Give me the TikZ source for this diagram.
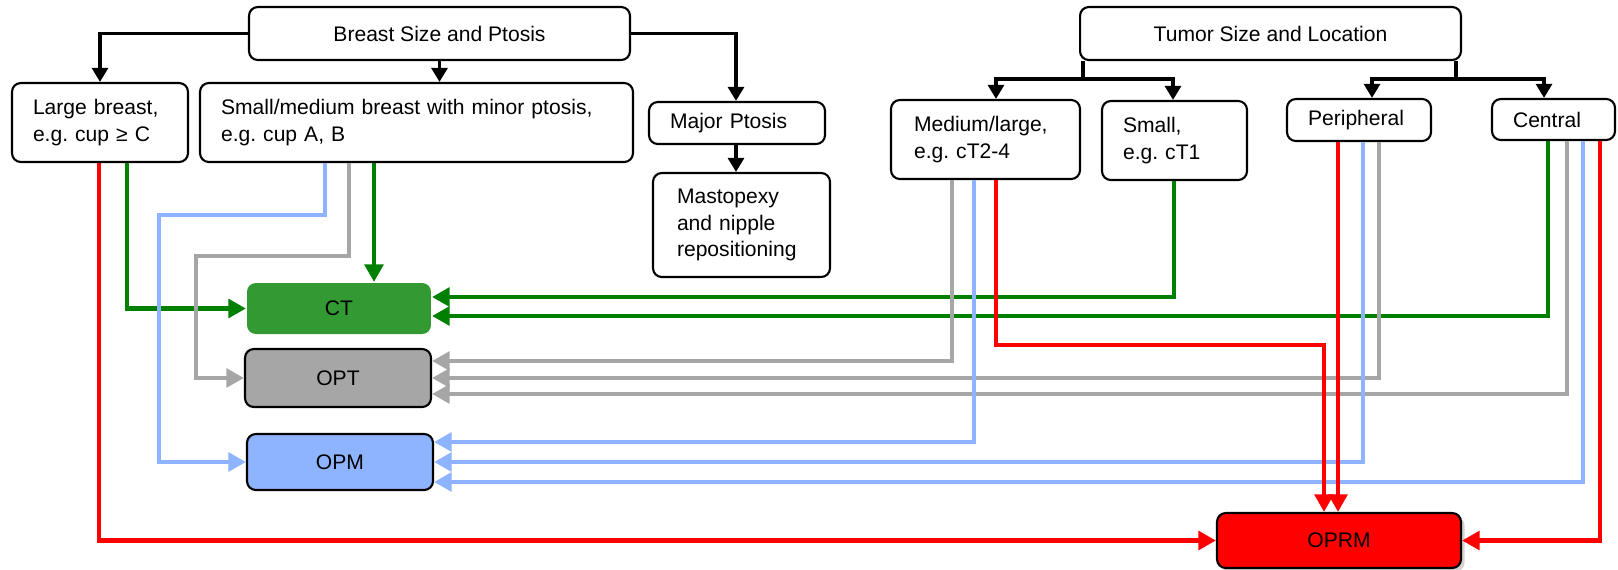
\documentclass[tikz,border=0pt]{standalone}
\usepackage{fontspec}
\setmainfont{Liberation Sans}
\usetikzlibrary{arrows.meta,calc,shadows}
\definecolor{dgreen}{HTML}{008000}
\definecolor{ctfill}{HTML}{339933}
\definecolor{gline}{HTML}{A6A6A6}
\definecolor{bline}{HTML}{8FB4FF}
\frenchspacing
\begin{document}
\begin{tikzpicture}[x=0.02cm,y=-0.02cm,
  box/.style={draw, line width=1.2pt, rounded corners=5pt, fill=white, inner ysep=0pt, font=\fontsize{12}{15}\selectfont},
  lbox/.style={box, align=left, inner xsep=0.42cm},
  blk/.style={line width=2.2pt, -{Triangle[length=8pt,width=9pt]}},
  col/.style={line width=2.6pt, -{Triangle[length=10pt,width=10.5pt]}},
]
\useasboundingbox (0,0) rectangle (1618,569);

% top-level boxes
\node[box, minimum width=7.62cm, minimum height=1.06cm] (breast) at (439.5,33.5) {Breast Size and Ptosis};
\node[box, minimum width=7.62cm, minimum height=1.06cm] (tumor) at (1270.5,33.5) {Tumor Size and Location};

% breast branches
\node[lbox, text width=2.68cm, minimum width=3.52cm, minimum height=1.58cm] (large) at (100,122.5) {Large breast,\\e.g. cup ≥ C};
\node[lbox, text width=7.82cm, minimum width=8.66cm, minimum height=1.58cm] (smallmed) at (416.5,122.5) {Small/medium breast with minor ptosis,\\e.g. cup A, B};
\node[lbox, text width=2.68cm, minimum width=3.52cm, minimum height=0.84cm] (major) at (737,123) {Major Ptosis};
\node[lbox, inner xsep=0.48cm, text width=2.58cm, minimum width=3.54cm, minimum height=2.08cm] (masto) at (741.5,225) {Mastopexy\\and nipple\\repositioning};

% tumor branches
\node[lbox, inner xsep=0.46cm, text width=2.86cm, minimum width=3.78cm, minimum height=1.58cm] (medl) at (985.5,139.5) {Medium/large,\\e.g. cT2-4};
\node[lbox, text width=2.06cm, minimum width=2.9cm, minimum height=1.58cm] (smalltum) at (1174.5,140.5) {Small,\\e.g. cT1};
\node[lbox, text width=2.04cm, minimum width=2.88cm, minimum height=0.84cm] (periph) at (1359,120) {Peripheral};
\node[lbox, text width=1.62cm, minimum width=2.46cm, minimum height=0.82cm] (central) at (1553.5,119.5) {Central};

% outcome boxes
\node[box, draw=none, fill=ctfill, minimum width=3.68cm, minimum height=1.02cm] (ct) at (339,308.5) {CT};
\node[box, fill=gline, minimum width=3.72cm, minimum height=1.16cm] (opt) at (338,378) {OPT};
\node[box, fill=bline, minimum width=3.72cm, minimum height=1.12cm] (opm) at (340,462) {OPM};
\node[box, fill=red, minimum width=4.88cm, minimum height=1.1cm,
      drop shadow={opacity=0.35, shadow xshift=2pt, shadow yshift=-2pt}] (oprm) at (1339,540.5) {OPRM};

% black connectors
\draw[blk] (breast.west) -| (large.north);
\draw[blk] (breast.south) -- (breast.south |- smallmed.north);
\draw[blk] (breast.east) -| (major.north -| 736,0);
\draw[blk] (major.south -| 736,0) -- (masto.north -| 736,0);
\coordinate (t1) at (1083,79);
\coordinate (t2) at (1456,79);
\draw[line width=2.8pt] (tumor.south -| t1) -- (t1);
\draw[line width=2.8pt] (tumor.south -| t2) -- (t2);
\draw[blk] (t1) -| (medl.north -| 996,0);
\draw[blk] (t1) -| (smalltum.north -| 1173,0);
\draw[blk] (t2) -| (periph.north -| 1372,0);
\draw[blk] (t2) -| (central.north -| 1544,0);

% green
\draw[col, dgreen] (large.south -| 127,0) |- (ct.west);
\draw[col, dgreen] (smallmed.south -| 374,0) -- (ct.north -| 374,0);
\draw[col, dgreen] (smalltum.south -| 1174,0) |- (ct.east |- 0,297);
\draw[col, dgreen] (central.south -| 1548,0) |- (ct.east |- 0,316);

% gray
\draw[col, gline] (smallmed.south -| 349,0) |- (196,256) |- (opt.west);
\draw[col, gline] (medl.south -| 952,0) |- (opt.east |- 0,361);
\draw[col, gline] (periph.south -| 1379,0) |- (opt.east |- 0,378);
\draw[col, gline] (central.south -| 1567,0) |- (opt.east |- 0,394);

% blue
\draw[col, bline] (smallmed.south -| 325,0) |- (159,215) |- (opm.west);
\draw[col, bline] (medl.south -| 974,0) |- (opm.east |- 0,442);
\draw[col, bline] (periph.south -| 1363,0) |- (opm.east |- 0,462);
\draw[col, bline] (central.south -| 1583,0) |- (opm.east |- 0,482);

% red
\draw[col, red] (large.south -| 99,0) |- (oprm.west);
\draw[col, red] (medl.south -| 996,0) |- (1324,345) -- (oprm.north -| 1324,0);
\draw[col, red] (periph.south -| 1338,0) -- (oprm.north -| 1338,0);
\draw[col, red] (central.south -| 1600,0) |- (oprm.east);
\end{tikzpicture}
\end{document}
